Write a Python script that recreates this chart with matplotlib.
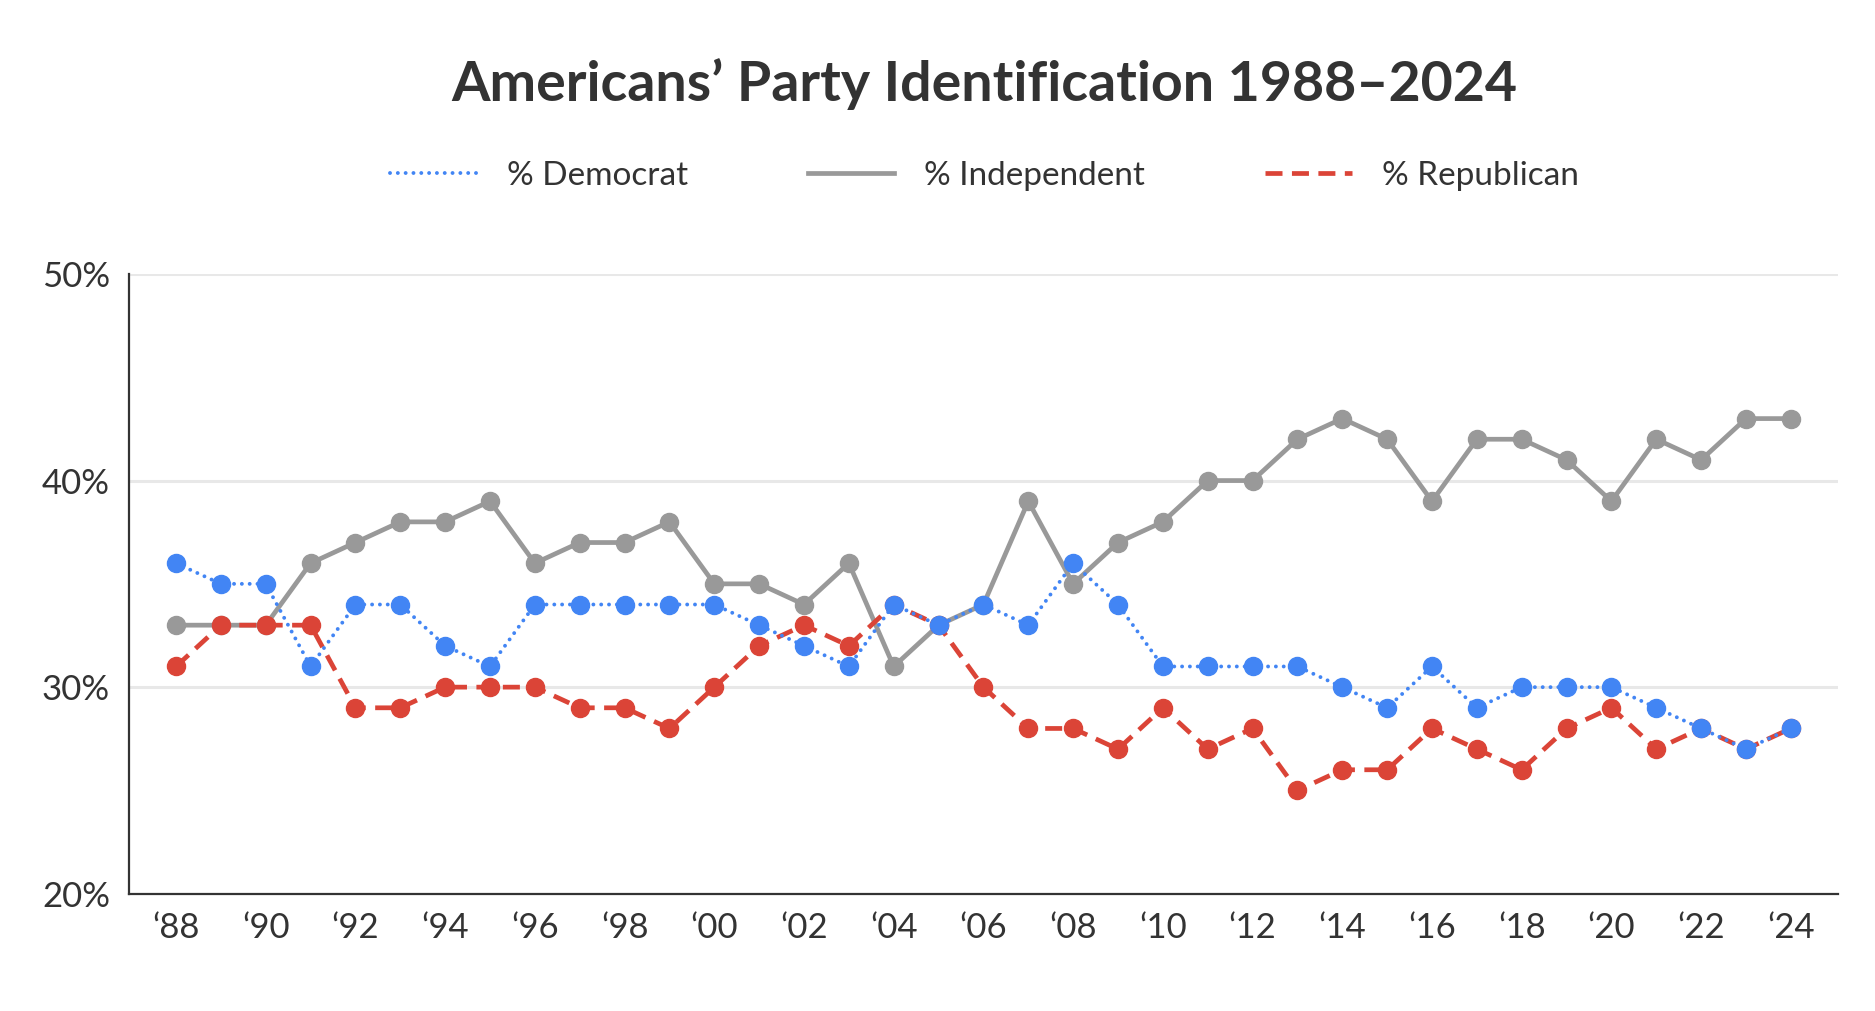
import matplotlib

matplotlib.use("Agg")
import matplotlib.pyplot as plt
from matplotlib.lines import Line2D

plt.rcParams["font.family"] = ["Lato", "DejaVu Sans"]

YEARS = list(range(1988, 2025))
DEMOCRAT = [36, 35, 35, 31, 34, 34, 32, 31, 34, 34, 34, 34, 34, 33, 32, 31, 34, 33, 34, 33,
            36, 34, 31, 31, 31, 31, 30, 29, 31, 29, 30, 30, 30, 29, 28, 27, 28]
INDEPENDENT = [33, 33, 33, 36, 37, 38, 38, 39, 36, 37, 37, 38, 35, 35, 34, 36, 31, 33, 34, 39,
               35, 37, 38, 40, 40, 42, 43, 42, 39, 42, 42, 41, 39, 42, 41, 43, 43]
REPUBLICAN = [31, 33, 33, 33, 29, 29, 30, 30, 30, 29, 29, 28, 30, 32, 33, 32, 34, 33, 30, 28,
              28, 27, 29, 27, 28, 25, 26, 26, 28, 27, 26, 28, 29, 27, 28, 27, 28]
Y_TICKS = [20, 30, 40, 50]
X_TICKS = list(range(1988, 2025, 2))

BLUE = "#4285f4"
GRAY = "#999999"
RED = "#db4437"
TEXT = "#333333"

fig = plt.figure(figsize=(18.75, 10.11), dpi=100)
ax = fig.add_axes([0.069, 0.116, 0.911, 0.613])

dem_style = dict(color=BLUE, lw=2.8, linestyle=(0, (0.01, 2.0)), dash_capstyle="round")
ind_style = dict(color=GRAY, lw=3.4, linestyle="-")
rep_style = dict(color=RED, lw=3.4, linestyle=(0, (3.6, 2.0)))

ax.plot(YEARS, INDEPENDENT, marker="o", ms=13, mec=GRAY, mfc=GRAY, zorder=3, **ind_style)
ax.plot(YEARS, REPUBLICAN, marker="o", ms=13, mec=RED, mfc=RED, zorder=4, **rep_style)
ax.plot(YEARS, DEMOCRAT, marker="o", ms=13, mec=BLUE, mfc=BLUE, zorder=5, **dem_style)

ax.set_ylim(20, 50)
ax.set_xlim(1986.96, 2025.04)
ax.set_yticks(Y_TICKS)
ax.set_yticklabels([f"{v}%" for v in Y_TICKS])
ax.set_xticks(X_TICKS)
ax.set_xticklabels([f"\u2018{y % 100:02d}" for y in X_TICKS])
ax.tick_params(length=0, labelsize=25, colors=TEXT, pad=13)
ax.tick_params(axis="y", pad=14)

for v in Y_TICKS[1:]:
    ax.axhline(v, color="#e8e8e8", lw=2.2, zorder=1)

for side in ("top", "right"):
    ax.spines[side].set_visible(False)
for side in ("left", "bottom"):
    ax.spines[side].set_color(TEXT)
    ax.spines[side].set_linewidth(1.6)
    ax.spines[side].set_zorder(6)

fig.text(0.525, 0.917, "Americans\u2019 Party Identification 1988\u20132024",
         ha="center", va="center", fontsize=40, fontweight="bold", color=TEXT)

handles = [
    Line2D([], [], **dem_style),
    Line2D([], [], **ind_style),
    Line2D([], [], **rep_style),
]
labels = ["% Democrat", "% Independent", "% Republican"]
fig.legend(handles, labels, loc="center", bbox_to_anchor=(0.525, 0.826), ncol=3,
           frameon=False, fontsize=24, labelcolor=TEXT, handlelength=2.6,
           handletextpad=0.9, columnspacing=3.6)

fig.savefig("out.png", dpi=100, facecolor="white")
